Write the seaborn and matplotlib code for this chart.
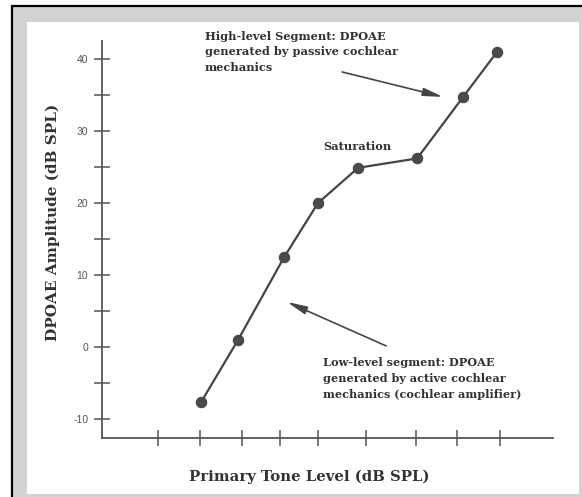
import matplotlib
matplotlib.use("Agg")
import matplotlib.pyplot as plt
import seaborn as sns
import pandas as pd
from matplotlib.patches import Rectangle

# ---- data ----
primary_level = [30.1, 38.7, 49.5, 57.4, 66.8, 80.6, 91.3, 99.3]
dpoae_amp = [-7.6, 1.0, 12.5, 20.0, 24.9, 26.2, 34.7, 41.0]
x_ticks = [20, 29.8, 39.6, 48.5, 57.4, 68.7, 80.4, 89.9, 100]
y_major = [-10, 0, 10, 20, 30, 40]
y_minor = [-5, 5, 15, 25, 35]
y_labels = ["-10", "0", "10", "20", "30", "40"]

high_text = "High-level Segment: DPOAE\ngenerated by passive cochlear\nmechanics"
low_text = "Low-level segment: DPOAE\ngenerated by active cochlear\nmechanics (cochlear amplifier)"
sat_text = "Saturation"
x_title = "Primary Tone Level (dB SPL)"
y_title = "DPOAE Amplitude (dB SPL)"

sns.set_style("white")
plt.rcParams["font.family"] = ["DejaVu Sans"]

W, H = 582, 497
fig = plt.figure(figsize=(W / 100, H / 100), dpi=100)
fig.patch.set_facecolor("white")

def fx(px):
    return px / W

def fy(py):
    return 1 - py / H

# frame: gray band with black outer line, white panel inside
fig.patches.append(Rectangle((fx(12), 0), 1 - fx(12), fy(6), transform=fig.transFigure,
                             facecolor="#d2d2d2", edgecolor="none", zorder=-10))
fig.patches.append(Rectangle((fx(27), fy(494)), fx(579) - fx(27), fy(22) - fy(494),
                             transform=fig.transFigure, facecolor="white",
                             edgecolor="none", zorder=-9))
fig.lines.append(plt.Line2D([fx(12), 1], [fy(6), fy(6)], transform=fig.transFigure,
                            color="black", lw=1.6, zorder=-8))
fig.lines.append(plt.Line2D([fx(12), fx(12)], [0, fy(6)], transform=fig.transFigure,
                            color="black", lw=1.6, zorder=-8))

left, right, bottom, top = 101.7, 552.7, 438, 40.7
ax = fig.add_axes([fx(left), fy(bottom), fx(right) - fx(left), fy(top) - fy(bottom)])
ax.set_zorder(5)
ax.set_facecolor("none")
ax.patch.set_alpha(0)

df = pd.DataFrame({"level": primary_level, "amp": dpoae_amp})
sns.lineplot(data=df, x="level", y="amp", ax=ax, color="#454545", lw=1.6,
             marker="o", markersize=7.5, markeredgecolor="#454545",
             markerfacecolor="#4a4a4a")

ax.set_xlim(6.83, 112.3)
ax.set_ylim(-12.6, 42.54)

for s in ["top", "right"]:
    ax.spines[s].set_visible(False)
for s in ["left", "bottom"]:
    ax.spines[s].set_color("#555555")
    ax.spines[s].set_linewidth(1.3)

ax.set_xticks(x_ticks)
ax.set_xticklabels([])
ax.set_yticks(y_major)
ax.set_yticklabels(y_labels)
ax.set_yticks(y_minor, minor=True)
ax.tick_params(axis="both", which="both", direction="inout", length=11.5, width=1.1,
               color="#555555", bottom=True, left=True, top=False, right=False)
ax.tick_params(axis="y", which="major", labelsize=7.5, labelcolor="#555555", pad=4)
for t in ax.get_yticklabels():
    t.set_family(["Liberation Sans"])

serif = ["DejaVu Serif"]
tcol = "#333333"

ax.set_xlabel(x_title, family=serif, fontsize=10.7, fontweight="bold", color=tcol)
ax.xaxis.set_label_coords((309 - left) / (right - left), (bottom - 477) / (bottom - top))
ax.xaxis.label.set_va("center")
ax.set_ylabel(y_title, family=serif, fontsize=11, fontweight="bold", color=tcol)
ax.yaxis.set_label_coords((53 - left) / (right - left), (bottom - 222) / (bottom - top))
ax.yaxis.label.set_va("center")

def dx(px):
    return 20 + (px - 158) / 4.275

def dy(py):
    return (347.3 - py) / 7.206

ax.text(dx(205), dy(31), high_text, family=serif, fontsize=8.2, fontweight="bold",
        color=tcol, va="top", ha="left", linespacing=1.5, clip_on=False)
ax.text(dx(323), dy(147), sat_text, family=serif, fontsize=8.2, fontweight="bold",
        color=tcol, va="center", ha="left")
ax.text(dx(323), dy(357), low_text, family=serif, fontsize=8.1, fontweight="bold",
        color=tcol, va="top", ha="left", linespacing=1.55)

arrow_style = dict(arrowstyle="-|>,head_length=1.0,head_width=0.2", color="#454545",
                   lw=1.2, shrinkA=0, shrinkB=0, mutation_scale=12)
ax.annotate("", xy=(dx(443), dy(97)), xytext=(dx(342), dy(72)), arrowprops=arrow_style)
ax.annotate("", xy=(dx(287), dy(302)), xytext=(dx(386), dy(346)), arrowprops=arrow_style)

fig.savefig("out.png", dpi=100)
